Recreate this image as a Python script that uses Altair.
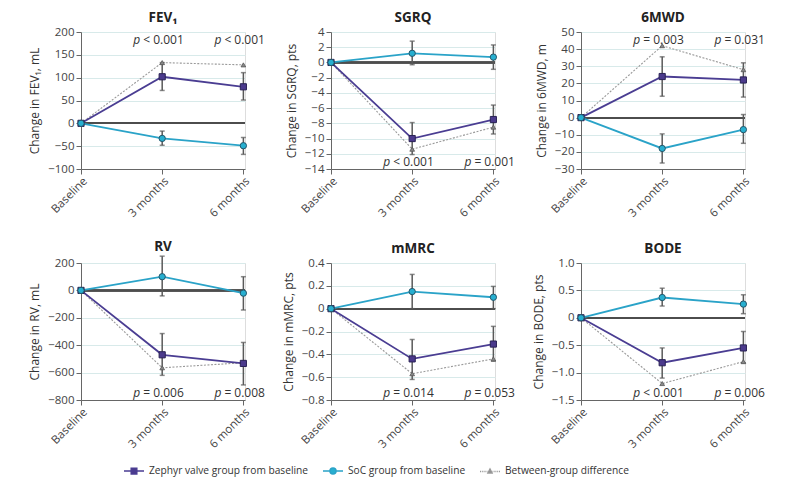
import altair as alt
import pandas as pd

panels = ["FEV₁", "SGRQ", "6MWD", "RV", "mMRC", "BODE"]
y_titles = ["Change in FEV₁, mL", "Change in SGRQ, pts", "Change in 6MWD, m",
            "Change in RV, mL", "Change in mMRC, pts", "Change in BODE, pts"]
timepoints = ["Baseline", "3 months", "6 months"]
series_names = ["Zephyr valve group from baseline", "SoC group from baseline", "Between-group difference"]

zephyr_mean = [[0, 102, 80], [0, -10, -7.5], [0, 24, 22], [0, -470, -533], [0, -0.44, -0.31], [0, -0.82, -0.55]]
zephyr_lo = [[None, 72, 51], [None, -12.1, -9.4], [None, 12.5, 12], [None, -620, -690], [None, -0.62, -0.46], [None, -1.10, -0.82]]
zephyr_hi = [[None, 133, 111], [None, -7.9, -5.6], [None, 35.5, 32], [None, -315, -380], [None, -0.27, -0.155], [None, -0.55, -0.25]]

soc_mean = [[0, -33, -49], [0, 1.2, 0.7], [0, -18, -7], [0, 100, -20], [0, 0.15, 0.10], [0, 0.37, 0.25]]
soc_lo = [[None, -48, -68], [None, -0.3, -0.9], [None, -26.5, -15], [None, -40, -143], [None, 0.0, 0.0], [None, 0.215, 0.075]]
soc_hi = [[None, -17, -31], [None, 2.8, 2.3], [None, -9.5, 1.8], [None, 250, 100], [None, 0.30, 0.195], [None, 0.54, 0.42]]

diff_mean = [[0, 133, 128], [0, -11.4, -8.5], [0, 42, 28], [0, -565, -528], [0, -0.57, -0.44], [0, -1.2, -0.80]]

p_relation = [["< 0.001", "< 0.001"], ["< 0.001", "= 0.001"], ["= 0.003", "= 0.031"],
              ["= 0.006", "= 0.008"], ["= 0.014", "= 0.053"], ["< 0.001", "= 0.006"]]
p_place = ["top", "bottom", "top", "bottom", "bottom", "bottom"]

y_domains = [[-100, 200], [-14, 4], [-30, 50], [-800, 200], [-0.8, 0.4], [-1.5, 1.0]]
y_steps = [50, 2, 10, 200, 0.2, 0.5]
y_formats = ["d", "d", "d", "d", ".1f", ".1f"]

FONT = "Open Sans"
ZEPH_LINE = "#4a3d92"
ZEPH_FILL = "#4b3a8c"
SOC_LINE = "#2aa3c8"
SOC_FILL = "#27afd0"
DIFF_LINE = "#9a9a9a"
DIFF_FILL = "#8a8a8a"

W, H = 164, 137

legend_paths = [
    "M-1,0H1M-0.28,-0.28H0.28V0.28H-0.28Z",
    "M-1,0H-0.3M0.3,0H1M-0.3,0A0.3,0.3 0 1,0 0.3,0A0.3,0.3 0 1,0 -0.3,0Z",
    "M-1,0H-0.88M-0.78,0H-0.66M-0.56,0H-0.44M-0.34,0H-0.26M0.26,0H0.34M0.44,0H0.56M0.66,0H0.78M0.88,0H1"
    "M0,-0.22L0.2,0.15H-0.2Z",
]


def panel(i):
    rows = []
    for s, (m, lo, hi) in enumerate([(zephyr_mean, zephyr_lo, zephyr_hi),
                                     (soc_mean, soc_lo, soc_hi),
                                     (diff_mean, None, None)]):
        for t in range(3):
            rows.append({
                "series": series_names[s],
                "t": t,
                "value": m[i][t],
                "lo": lo[i][t] if lo else None,
                "hi": hi[i][t] if hi else None,
            })
    df = pd.DataFrame(rows)
    lo_d, hi_d = y_domains[i]
    step = y_steps[i]
    n = int(round((hi_d - lo_d) / step))
    tick_vals = [round(lo_d + k * step, 6) for k in range(n + 1)]

    xs = alt.Scale(domain=[0, 2.02], nice=False, zero=False)
    xa = alt.Axis(values=[0, 1, 2], title=None, grid=False,
                  labelExpr="['Baseline','3 months','6 months'][datum.value]",
                  labelAngle=-45, labelAlign="right", labelBaseline="top",
                  labelFontSize=11.5, labelColor="#444", tickSize=5,
                  tickColor="#666", domainColor="#666", labelPadding=1)
    ys = alt.Scale(domain=y_domains[i], nice=False, zero=False)
    ya = alt.Axis(values=tick_vals, title=y_titles[i], grid=True, gridColor="#d8eaea",
                  labelExpr=f"datum.value == 0 ? '0' : replace(format(datum.value, '{y_formats[i]}'), '-', '−')",
                  labelFontSize=11.5, labelColor="#444", tickSize=5, tickColor="#666",
                  domainColor="#666", titleFontSize=12, titleFontWeight="normal",
                  titleColor="#333", titlePadding=6)

    X = lambda f="t": alt.X(f"{f}:Q", scale=xs, axis=xa)
    Y = lambda f: alt.Y(f"{f}:Q", scale=ys, axis=ya)

    base = alt.Chart(df)

    zero = base.transform_calculate(zero="0").mark_rule(
        color="#4d4d4d", strokeWidth=1.5).encode(y=Y("zero"))
    diff_line = base.transform_filter(alt.datum.series == series_names[2]).mark_line(
        color=DIFF_LINE, strokeWidth=1.1, strokeDash=[2, 1.5]).encode(x=X(), y=Y("value"))
    solid = base.transform_filter(alt.datum.series != series_names[2]).mark_line(
        strokeWidth=1.8).encode(
        x=X(), y=Y("value"),
        color=alt.Color("series:N", scale=alt.Scale(domain=series_names[:2], range=[ZEPH_LINE, SOC_LINE]),
                        legend=None),
        detail="series:N")
    errs = base.transform_filter("isValid(datum.lo)")
    err_rule = errs.mark_rule(color="#595959", strokeWidth=1.5).encode(
        x=X(), y=Y("lo"), y2="hi:Q")
    cap_lo = errs.mark_tick(color="#595959", orient="horizontal", size=5, thickness=1.5).encode(
        x=X(), y=Y("lo"))
    cap_hi = errs.mark_tick(color="#595959", orient="horizontal", size=5, thickness=1.5).encode(
        x=X(), y=Y("hi"))
    tri = base.transform_filter(alt.datum.series == series_names[2]).mark_point(
        shape="triangle-up", filled=True, size=22, color=DIFF_FILL, stroke="#555",
        strokeWidth=0.8, opacity=1).encode(x=X(), y=Y("value"))
    sq = base.transform_filter(alt.datum.series == series_names[0]).mark_point(
        shape="square", filled=True, size=38, color=ZEPH_FILL, stroke="#2a2255",
        strokeWidth=1, opacity=1).encode(x=X(), y=Y("value"))
    circ = base.transform_filter(alt.datum.series == series_names[1]).mark_point(
        shape="circle", filled=True, size=40, color=SOC_FILL, stroke="#24566a",
        strokeWidth=1, opacity=1).encode(x=X(), y=Y("value"))

    pdf = pd.DataFrame({"t": [1, 2], "rel": p_relation[i], "p": ["p", "p"]})
    ypos = 8 if p_place[i] == "top" else 130
    p_it = alt.Chart(pdf).mark_text(
        font=FONT, fontSize=12, fontStyle="italic", color="#333", align="right",
        baseline="middle", dx=-22).encode(x=X(), y=alt.value(ypos), text="p:N")
    p_rest = alt.Chart(pdf).mark_text(
        font=FONT, fontSize=12, color="#333", align="left", baseline="middle",
        dx=-19).encode(x=X(), y=alt.value(ypos), text="rel:N")

    layers = [zero, diff_line, solid, err_rule, cap_lo, cap_hi, tri, sq, circ, p_it, p_rest]

    if i == 0:
        leg = alt.Legend(title=None, orient="none", legendX=42, legendY=428, direction="horizontal",
                         symbolSize=400, symbolStrokeWidth=1.5, symbolOpacity=1,
                         labelFont=FONT, labelFontSize=10.2, labelColor="#333", labelLimit=400,
                         labelOffset=4, columnPadding=11)
        legend_layer = base.mark_point(filled=True, opacity=0).encode(
            x=X(), y=Y("value"),
            shape=alt.Shape("series:N", scale=alt.Scale(domain=series_names, range=legend_paths),
                            legend=leg, sort=series_names),
            fill=alt.Fill("series:N", scale=alt.Scale(domain=series_names,
                                                      range=[ZEPH_FILL, SOC_FILL, DIFF_FILL]),
                          legend=leg, sort=series_names),
            stroke=alt.Stroke("series:N", scale=alt.Scale(domain=series_names,
                                                          range=[ZEPH_LINE, SOC_LINE, DIFF_LINE]),
                              legend=leg, sort=series_names),
        )
        layers.append(legend_layer)

    return alt.layer(*layers).properties(
        width=W, height=H,
        title=alt.TitleParams(panels[i], fontSize=13.5, fontWeight="bold", font=FONT,
                              color="#222", offset=2, anchor="middle"))


chart = alt.concat(*[panel(i) for i in range(6)], columns=3,
                   spacing={"row": 94, "column": 86}, bounds="flush").properties(
    padding={"left": 20, "top": 2, "right": 5, "bottom": 5}
).configure_view(stroke=None).configure(font=FONT)

chart.save("out.html", embed_options={"renderer": "svg", "actions": False})
